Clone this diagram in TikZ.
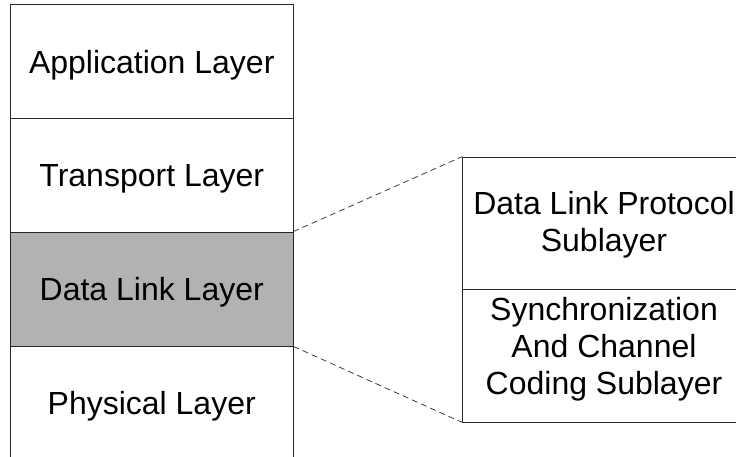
\documentclass[tikz,border=0pt]{standalone}
\usepackage{fontspec}
\setmainfont{Liberation Sans}
\begin{document}
\begin{tikzpicture}[
    x=1pt, y=-1pt,
    layer/.style={draw=black!85, line width=0.9pt, minimum width=282.5pt, minimum height=114pt, inner sep=0pt, text depth=0pt, align=center, font=\fontsize{32}{37}\selectfont},
    sublayer/.style={layer, minimum height=132.5pt},
    zoomline/.style={draw=black!85, line width=0.7pt, dash pattern=on 6pt off 4pt}
]
    \useasboundingbox (0,0) rectangle (736,457);
    \clip (0,0) rectangle (736,457);

    % Protocol stack
    \node[layer] (app) at (151.75,61.5) {Application Layer};
    \node[layer] (trans) at (151.75,175) {Transport Layer};
    \node[layer, fill=black!30] (dll) at (151.75,289) {Data Link Layer};
    \node[layer] (phy) at (151.75,403) {Physical Layer};

    % Sublayers of the data link layer
    \node[sublayer, text depth=4pt] (proto) at (604,223.25) {Data Link Protocol\\Sublayer};
    \node[sublayer, text depth=20pt] (sync) at (604,355.75) {Synchronization\\And Channel\\Coding Sublayer};

    % Zoom lines
    \draw[zoomline] (dll.north east) -- (proto.north west);
    \draw[zoomline] (dll.south east) -- (sync.south west);
\end{tikzpicture}
\end{document}
